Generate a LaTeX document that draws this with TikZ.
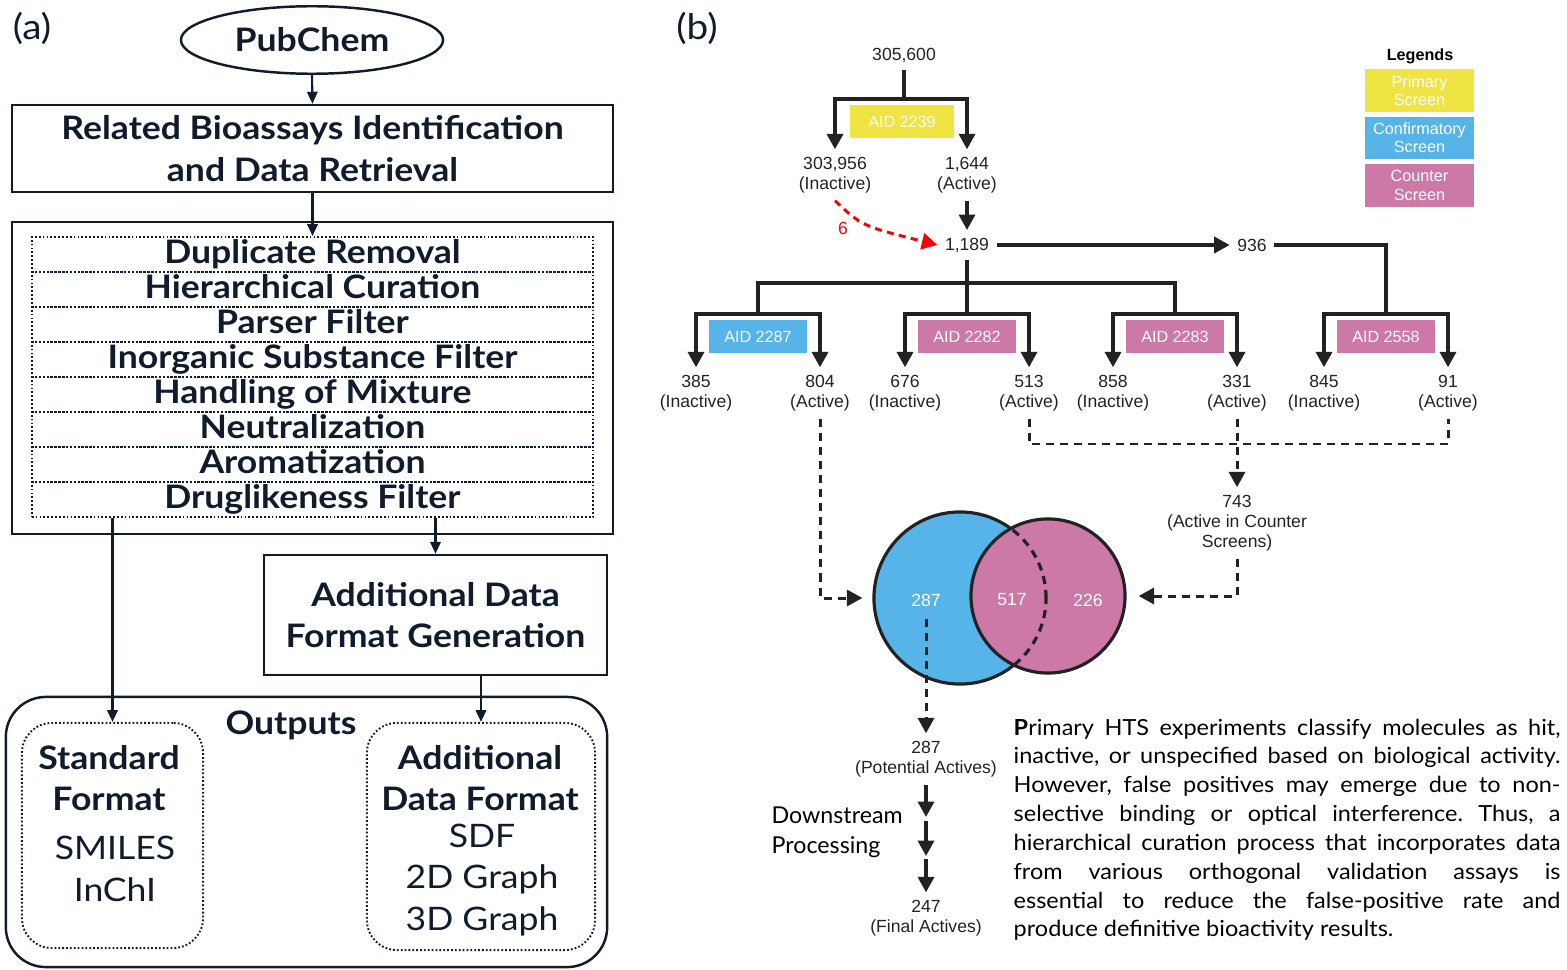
\documentclass[tikz,border=0pt]{standalone}
\usepackage{fontspec}
\setmainfont{Lato}
\newfontfamily\afont[FakeStretch=1.1]{Lato}
\newfontfamily\pfont[FakeStretch=1.06]{Lato}
\newfontfamily\rfont{Liberation Sans}
\usetikzlibrary{shapes.geometric,arrows.meta,positioning}
\frenchspacing
\definecolor{ink}{HTML}{101C2C}
\definecolor{dark}{HTML}{222222}
\definecolor{prim}{HTML}{F0E442}
\definecolor{conf}{HTML}{56B4E9}
\definecolor{coun}{HTML}{CC79A7}
\newcommand{\bigfs}{\afont\fontsize{9.2}{11.8}\selectfont}
\newcommand{\smfs}{\rfont\fontsize{5}{5.7}\selectfont}
\newcommand{\tagfs}{\rfont\fontsize{4.6}{5.2}\selectfont}
\newcommand{\parfs}{\pfont\fontsize{6.3}{8.2}\selectfont}

\begin{document}
\begin{tikzpicture}[x=0.01cm,y=-0.01cm,
  abox/.style={draw=ink,line width=0.7pt,inner sep=0pt,align=center,text=ink,font=\bigfs\bfseries},
  dotbox/.style={draw=ink,line width=0.55pt,dash pattern=on 0.5pt off 0.6pt},
  rowbox/.style={dotbox,minimum width=56.1mm,minimum height=3.5mm,inner sep=0pt,text=ink,font=\bigfs\bfseries},
  aarrow/.style={draw=ink,line width=0.6pt,-{Triangle[width=3pt,length=3.4pt]}},
  num/.style={font=\smfs,text=dark,align=center,inner sep=2pt},
  aid/.style={minimum width=9.7mm,minimum height=3.3mm,inner sep=0pt,text=white,font=\tagfs},
  bline/.style={draw=dark,line width=0.9pt},
  btip/.style={-{Triangle[width=4.6pt,length=4.4pt]}},
  barrow/.style={bline,btip},
  bdash/.style={draw=dark,line width=0.85pt,dash pattern=on 2.3pt off 1.7pt},
]
\useasboundingbox (0,0) rectangle (1567,970);

% ---- (a) workflow
\node[text=ink,font=\afont\fontsize{10}{12}\selectfont] (taga) at (32,28) {(a)};
\node[draw=ink,line width=0.7pt,ellipse,minimum width=26.2mm,minimum height=6.6mm,text=ink,font=\bigfs\bfseries] (pubchem) at (312,40) {PubChem};
\node[abox,minimum width=60.1mm,minimum height=8.7mm] (retrieve) at (312.5,148.5) {Related Bioassays Identification\\and Data Retrieval};
\node[abox,minimum width=60.1mm,minimum height=31.2mm] (curation) at (312.5,378) {};
\foreach \t [count=\k] in {Duplicate Removal,Hierarchical Curation,Parser Filter,Inorganic Substance Filter,Handling of Mixture,Neutralization,Aromatization,Druglikeness Filter}
  \node[rowbox] (row\k) at (312.5,219.5+35*\k) {\vphantom{Hg}\t};
\node[abox,minimum width=34.3mm,minimum height=12mm] (addgen) at (435.5,615) {Additional Data\\Format Generation};

% outputs
\node[abox,rounded corners=4mm,minimum width=60.1mm,minimum height=27mm] (outputs) at (306.5,832) {};
\node[text=ink,font=\bigfs\bfseries] (outlbl) at (291,725) {Outputs};
\node[dotbox,rounded corners=3mm,minimum width=18.1mm,minimum height=22.5mm] (stdbox) at (112.5,835.5) {};
\node[dotbox,rounded corners=3mm,minimum width=22.8mm,minimum height=22.7mm] (addbox) at (481,836.5) {};
\node[text=ink,align=center,font=\bigfs\bfseries] (stdhead) at (109,778) {Standard\\Format};
\node[text=ink,align=center,font=\bigfs] (stdlist) at (115,869) {SMILES\\InChI};
\node[text=ink,align=center,font=\bigfs\bfseries] (addhead) at (480,778) {Additional\\Data Format};
\node[text=ink,align=center,font=\bigfs] (addlist) at (482,880) {SDF\\2D Graph\\3D Graph};

\draw[aarrow] (pubchem.south) -- (retrieve.north);
\draw[aarrow] (retrieve.south) -- (row1.north);
\draw[aarrow] (row8.south -| stdbox.north) -- (stdbox.north);
\draw[aarrow] (row8.south -| addgen.north) -- (addgen.north);
\draw[aarrow] (addgen.south -| addbox.north) -- (addbox.north);

% ---- (b) hierarchical curation
\node[text=ink,font=\afont\fontsize{10}{12}\selectfont] (tagb) at (697,28) {(b)};
\node[num] (n305) at (904,55) {305,600};
\coordinate (t2239) at (904,99);
\node[aid,fill=prim,minimum width=10.4mm] (aid2239) at (902,121.5) {AID 2239};
\node[num] (n303) at (835,175) {303,956\\(Inactive)};
\node[num] (n1644) at (967,175) {1,644\\(Active)};
\draw[bline] (n305.south) -- (t2239);
\draw[barrow] (t2239) -| (n303.north);
\draw[barrow] (t2239) -| (n1644.north);

\node[num] (n1189) at (967,245) {1,189};
\draw[barrow] (n1644.south) -- (n1189.north);
\draw[red,line width=0.85pt,dash pattern=on 2pt off 1.5pt,btip] (n303.south) .. controls (862,226) .. (n1189.west);
\node[text=red,font=\smfs] (lbl6) at (843,228) {6};
\node[num] (n936) at (1252,245) {936};
\draw[barrow] (n1189.east) -- (n936.west);

% confirmatory and counter screens
\foreach \c/\aidno/\col/\inact/\act [count=\k] in {758/2287/conf/385/804,967/2282/coun/676/513,1175/2283/coun/858/331,1386/2558/coun/845/91} {
  \coordinate (top\k) at (\c,314);
  \node[aid,fill=\col] (aid\k) at (\c,336.5) {AID \aidno};
  \node[num] (ina\k) at (\c-62,393) {\inact\\(Inactive)};
  \node[num] (act\k) at (\c+62,393) {\act\\(Active)};
  \draw[barrow] (top\k) -| (ina\k.north);
  \draw[barrow] (top\k) -| (act\k.north);
}
\coordinate (hub) at (967,283);
\draw[bline] (n1189.south) -- (top2);
\draw[bline] (hub) -| (top1);
\draw[bline] (hub) -| (top3);
\draw[bline] (n936.east) -| (top4);

% venn
\node[circle,draw=dark,line width=0.9pt,fill=conf,minimum size=17.2mm,inner sep=0pt] (bluec) at (960,598) {};
\node[circle,draw=dark,line width=0.9pt,fill=coun,minimum size=15.4mm,inner sep=0pt] (pinkc) at (1048,596) {};
\begin{scope}
  \clip (pinkc.center) circle (7.7mm);
  \draw[bdash,line width=0.9pt] (bluec.center) circle (8.6mm);
\end{scope}
\node[text=white,font=\smfs] (v287) at (926,600) {287};
\node[text=white,font=\smfs] (v517) at (1012,600) {517};
\node[text=white,font=\smfs] (v226) at (1088,600) {226};

% dashed links
\coordinate (dj) at (1237,444);
\draw[bdash] (act2.south) |- (dj) -| (act4.south);
\node[num] (n743) at (1237,523) {743\\(Active in Counter\\Screens)};
\draw[bdash,btip] (act3.south) -- (n743.north);
\draw[bdash,btip,shorten >=1.2mm] (n743.south) |- (pinkc.east);
\draw[bdash,btip,shorten >=1mm] (act1.south) |- (bluec.west);

% downstream
\node[num] (p287) at (926,759) {287\\(Potential Actives)};
\draw[bdash,btip] (v287.south) -- (p287.north);
\coordinate (s1) at (926,817);
\coordinate (s2) at (926,821);
\coordinate (s3) at (926,856);
\coordinate (s4) at (926,859);
\node[num] (p247) at (926,918) {247\\(Final Actives)};
\draw[barrow] (p287.south) -- (s1);
\draw[barrow] (s2) -- (s3);
\draw[barrow] (s4) -- (p247.north);
\node[anchor=west,align=left,inner sep=0pt,font=\fontsize{6.6}{8.5}\selectfont] (dsproc) at (771,832) {Downstream\\Processing};

% legends
\node[font=\tagfs\bfseries] (leghead) at (1420,56) {Legends};
\foreach \col/\t/\y [count=\k] in {prim/Primary/90.5,conf/Confirmatory/138,coun/Counter/185.5}
  \node[fill=\col,text=white,font=\tagfs,align=center,minimum width=10.9mm,minimum height=4.2mm,inner sep=0pt] (leg\k) at (1419.5,\y) {\t\\Screen};

% caption text
\node[anchor=north west,inner sep=0pt,font=\parfs] (blurb) at (1013,718) {\parbox{155.5pt}{%
\makebox[\linewidth][s]{\textbf{P}rimary HTS experiments classify molecules as hit,}\\
\makebox[\linewidth][s]{inactive, or unspecified based on biological activity.}\\
\makebox[\linewidth][s]{However, false positives may emerge due to non-}\\
\makebox[\linewidth][s]{selective binding or optical interference. Thus, a}\\
\makebox[\linewidth][s]{hierarchical curation process that incorporates data}\\
\makebox[\linewidth][s]{from various orthogonal validation assays is}\\
\makebox[\linewidth][s]{essential to reduce the false-positive rate and}\\
produce definitive bioactivity results.}};
\end{tikzpicture}
\end{document}
